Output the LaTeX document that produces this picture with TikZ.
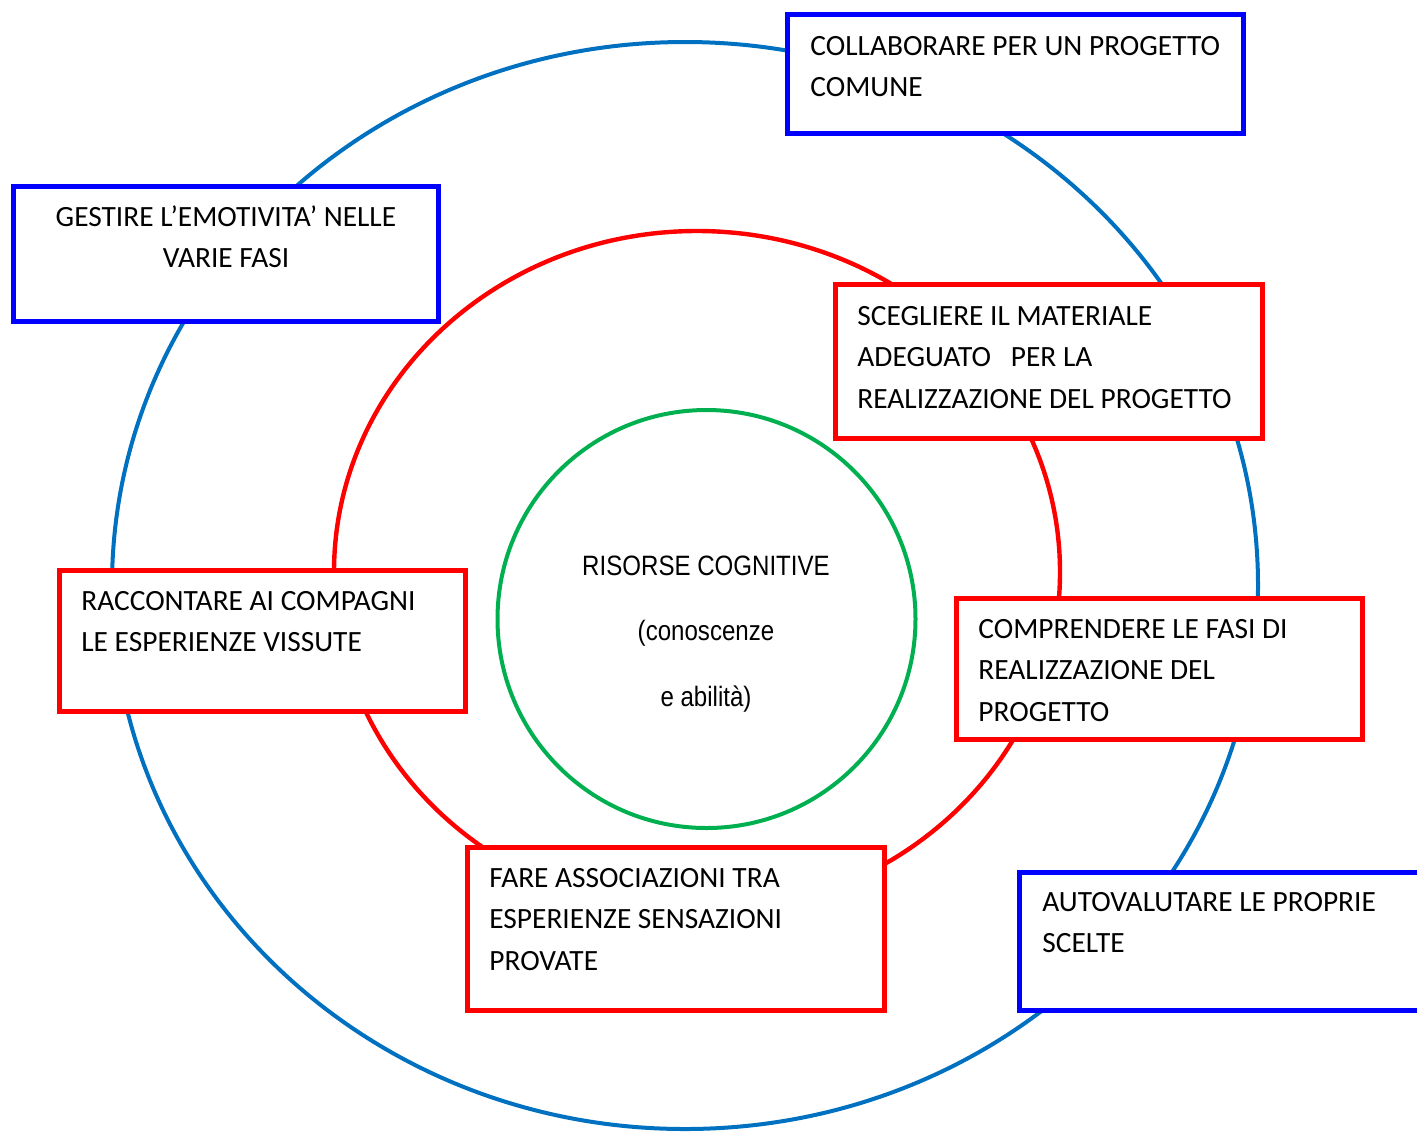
\documentclass[tikz,border=0pt]{standalone}
\usepackage{fontspec}
\setmainfont{Carlito}
\newfontfamily\narrowfont[FakeStretch=0.86]{Liberation Sans}
\definecolor{ringblue}{HTML}{0070C0}
\definecolor{boxblue}{HTML}{0000FF}
\definecolor{boxred}{HTML}{FF0000}
\definecolor{ringgreen}{HTML}{00B050}
\begin{document}
\begin{tikzpicture}[x=0.5pt,y=-0.5pt,
  anybox/.style={line width=2.5pt,fill=white,inner sep=0pt,outer sep=0pt,anchor=north west},
  bluebox/.style={anybox,draw=boxblue},
  redbox/.style={anybox,draw=boxred},
  boxtext/.style={anchor=base west,inner sep=0pt,align=flush left,text width=230pt,font=\fontsize{14.7}{20.75}\selectfont},
  centertext/.style={anchor=base,inner sep=0pt,align=flush center,text width=160pt,font=\narrowfont\fontsize{14}{32.75}\selectfont}
]
\useasboundingbox (0,0) rectangle (1417,1131);
\clip (0,0) rectangle (1417,1131);

% rings
\draw[ringblue,line width=2pt] (685,585.5) ellipse [x radius=573, y radius=543.5];
\draw[boxred,line width=2.2pt] (697,572) ellipse [x radius=363, y radius=341];
\draw[ringgreen,line width=2pt] (706.5,619) circle [radius=209];

% boxes
\node[bluebox,minimum width=228pt,minimum height=59.5pt] (b1) at (787,14) {};
\node[bluebox,minimum width=212.5pt,minimum height=67.5pt] (b2) at (13,186) {};
\node[redbox,minimum width=213.5pt,minimum height=77pt] (b3) at (835.5,284.5) {};
\node[redbox,minimum width=203pt,minimum height=70.5pt] (b4) at (59,570) {};
\node[redbox,minimum width=203pt,minimum height=70.5pt] (b5) at (956,598) {};
\node[redbox,minimum width=208.5pt,minimum height=81.5pt] (b6) at (467,847) {};
\node[bluebox,minimum width=210pt,minimum height=69pt] (b7) at (1019.5,872) {};

% texts
\node[boxtext] (t1) at (810,55) {COLLABORARE PER UN PROGETTO\\COMUNE};
\node[boxtext,anchor=base,align=flush center,text width=210pt] (t2) at (226,226) {GESTIRE L’EMOTIVITA’ NELLE\\VARIE FASI};
\node[boxtext] (t3) at (857,325) {SCEGLIERE IL MATERIALE\\ADEGUATO\ \ \ PER LA\\REALIZZAZIONE DEL PROGETTO};
\node[boxtext] (t4) at (81,610) {RACCONTARE AI COMPAGNI\\LE ESPERIENZE VISSUTE};
\node[boxtext] (t5) at (978,638) {COMPRENDERE LE FASI DI\\REALIZZAZIONE DEL\\PROGETTO};
\node[boxtext] (t6) at (489,887) {FARE ASSOCIAZIONI TRA\\ESPERIENZE SENSAZIONI\\PROVATE};
\node[boxtext] (t7) at (1042,911) {AUTOVALUTARE LE PROPRIE\\SCELTE};
\node[centertext] (tc) at (706,575) {RISORSE COGNITIVE\\(conoscenze\\e abilità)};
\end{tikzpicture}
\end{document}
